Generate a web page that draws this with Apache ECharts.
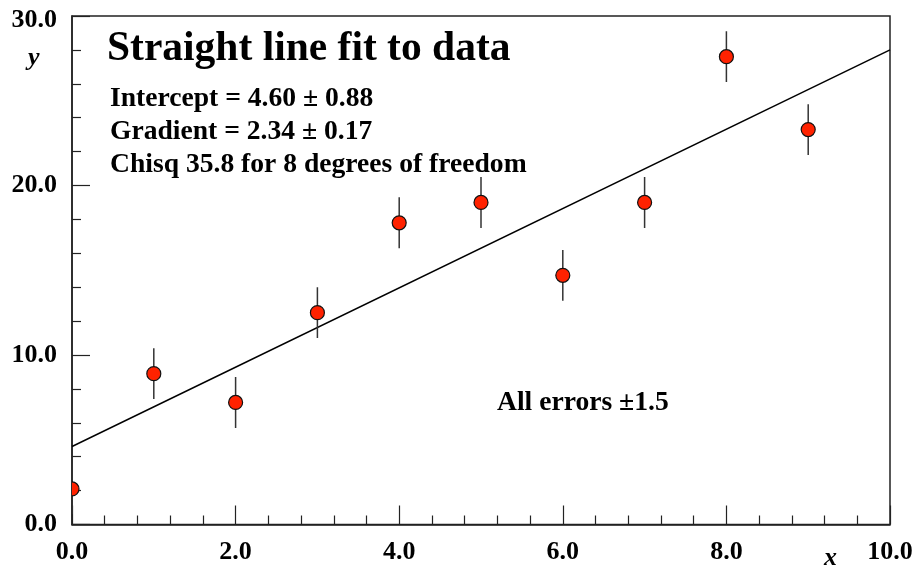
<!DOCTYPE html>
<html>
<head>
<meta charset="utf-8">
<script src="https://cdn.jsdelivr.net/npm/echarts@6/dist/echarts.min.js"></script>
<style>
html,body{margin:0;padding:0;background:#fff;}
#chart{width:917px;height:569px;}
</style>
</head>
<body>
<div id="chart"></div>
<script>
// Data
const xValues = [0, 1, 2, 3, 4, 5, 6, 7, 8, 9];
const yValues = [2.1, 8.9, 7.2, 12.5, 17.8, 19.0, 14.7, 19.0, 27.6, 23.3];
const yErrors = [1.5, 1.5, 1.5, 1.5, 1.5, 1.5, 1.5, 1.5, 1.5, 1.5];
const fitX = [0, 10];
const fitY = [4.6, 28.0];
const titleText = 'Straight line fit to data';
const infoLines = ['Intercept = 4.60 \u00b1 0.88', 'Gradient = 2.34 \u00b1 0.17', 'Chisq 35.8 for 8 degrees of freedom'];
const noteText = 'All errors \u00b11.5';

const points = xValues.map((x, i) => [x, yValues[i], yErrors[i]]);
const fitLine = fitX.map((x, i) => [x, fitY[i]]);

const serif = '"Liberation Serif", "DejaVu Serif", serif';
const chart = echarts.init(document.getElementById('chart'), null, {renderer: 'canvas'});

const labelFont = {color: '#000', fontFamily: serif, fontWeight: 'bold', fontSize: 26};

const axisCommon = {
  axisLine: {show: true, lineStyle: {color: '#222', width: 1.5}},
  axisTick: {show: true, inside: true, lineStyle: {color: '#222', width: 1.2}},
  minorTick: {show: true, splitNumber: 5, length: 9, lineStyle: {color: '#222', width: 1.2}},
  splitLine: {show: false},
  axisLabel: Object.assign({}, labelFont, {formatter: v => v.toFixed(1)})
};

chart.setOption({
  backgroundColor: '#fff',
  animation: false,
  grid: {left: 72, right: 27, top: 16, bottom: 44.5, show: true, borderColor: '#222', borderWidth: 1.5, backgroundColor: 'transparent'},
  xAxis: Object.assign({}, axisCommon, {
    type: 'value', min: 0, max: 10, interval: 2,
    axisTick: Object.assign({}, axisCommon.axisTick, {length: 19}),
    axisLabel: Object.assign({}, axisCommon.axisLabel, {margin: 15})
  }),
  yAxis: Object.assign({}, axisCommon, {
    type: 'value', min: 0, max: 30, interval: 10,
    axisTick: Object.assign({}, axisCommon.axisTick, {length: 18}),
    axisLabel: Object.assign({}, axisCommon.axisLabel, {
      margin: 15,
      formatter: v => (v === 30 ? '{top|' + v.toFixed(1) + '}' : v.toFixed(1)),
      rich: {top: Object.assign({}, labelFont, {padding: [9, 0, 0, 0]})}
    })
  }),
  graphic: [
    {type: 'text', left: 28, top: 45, style: {text: 'y', font: 'italic bold 26px ' + serif, fill: '#000'}},
    {type: 'text', left: 824, top: 545, style: {text: 'x', font: 'italic bold 26px ' + serif, fill: '#000'}},
    {type: 'text', left: 107, top: 28, style: {text: titleText, font: 'bold 41.5px ' + serif, fill: '#000'}},
    {type: 'text', left: 110, top: 85, style: {text: infoLines[0], font: 'bold 27.6px ' + serif, fill: '#000'}},
    {type: 'text', left: 110, top: 118, style: {text: infoLines[1], font: 'bold 27.6px ' + serif, fill: '#000'}},
    {type: 'text', left: 110, top: 151, style: {text: infoLines[2], font: 'bold 27.6px ' + serif, fill: '#000'}},
    {type: 'text', left: 497, top: 389, style: {text: noteText, font: 'bold 27.6px ' + serif, fill: '#000'}}
  ],
  series: [
    {
      type: 'line', data: fitLine, showSymbol: false, symbol: 'none',
      lineStyle: {color: '#000', width: 1.5}, z: 2, silent: true
    },
    {
      type: 'custom', data: points, clip: true, z: 3, silent: true,
      renderItem: function (params, api) {
        const x = api.value(0), y = api.value(1), e = api.value(2);
        const top = api.coord([x, y + e]);
        const bot = api.coord([x, y - e]);
        const c = api.coord([x, y]);
        return {
          type: 'group',
          children: [
            {type: 'line', shape: {x1: top[0], y1: top[1], x2: bot[0], y2: bot[1]}, style: {stroke: '#333', lineWidth: 1.5}},
            {type: 'circle', shape: {cx: c[0], cy: c[1], r: 7}, style: {fill: '#ff2200', stroke: '#111', lineWidth: 1.2}}
          ]
        };
      }
    }
  ]
});
</script>
</body>
</html>
